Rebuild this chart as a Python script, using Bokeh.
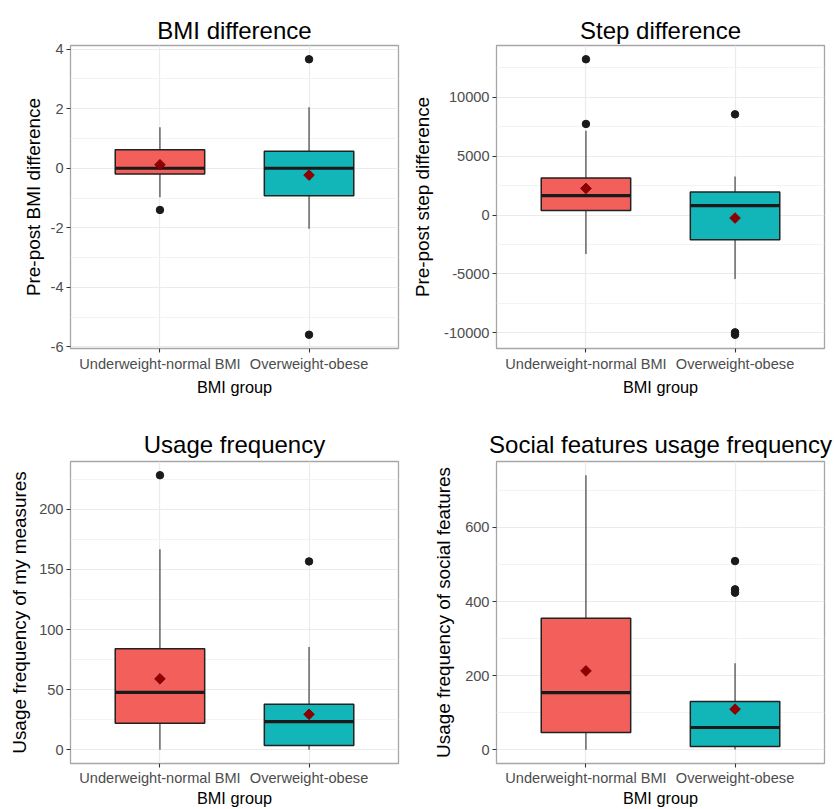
import math
from bokeh.plotting import figure
from bokeh.layouts import column, row
from bokeh.models import Range1d, FixedTicker, Title, ColumnDataSource
from bokeh.embed import file_html
from bokeh.resources import INLINE

# ---------------- data ----------------
categories = ["Underweight-normal BMI", "Overweight-obese"]
box_colors = ["#F35F5B", "#12B5B8"]

bmi_q1 = [-0.19, -0.92]
bmi_med = [0.0, 0.0]
bmi_q3 = [0.62, 0.57]
bmi_lo = [-0.97, -2.03]
bmi_hi = [1.38, 2.05]
bmi_mean = [0.12, -0.23]
bmi_out_group = [0, 1, 1]
bmi_out_val = [-1.40, 3.66, -5.59]
bmi_ticks = [-6, -4, -2, 0, 2, 4]
bmi_tick_labels = ["-6", "-4", "-2", "0", "2", "4"]

step_q1 = [390, -2097]
step_med = [1638, 790]
step_q3 = [3141, 1952]
step_lo = [-3310, -5433]
step_hi = [7156, 3277]
step_mean = [2258, -255]
step_out_group = [0, 0, 1, 1, 1]
step_out_val = [13209, 7725, 8540, -9950, -10150]
step_ticks = [-10000, -5000, 0, 5000, 10000]
step_tick_labels = ["-10000", "-5000", "0", "5000", "10000"]

usage_q1 = [22.1, 3.6]
usage_med = [47.7, 23.4]
usage_q3 = [84.1, 37.8]
usage_lo = [0, 0]
usage_hi = [166.9, 85.5]
usage_mean = [59.0, 29.5]
usage_out_group = [0, 1]
usage_out_val = [228.4, 156.7]
usage_ticks = [0, 50, 100, 150, 200]
usage_tick_labels = ["0", "50", "100", "150", "200"]

social_q1 = [46.7, 8.9]
social_med = [154.5, 60.1]
social_q3 = [354.8, 130.2]
social_lo = [0, 1]
social_hi = [741, 233.6]
social_mean = [212.9, 109.7]
social_out_group = [1, 1, 1]
social_out_val = [509.3, 433, 424]
social_ticks = [0, 200, 400, 600]
social_tick_labels = ["0", "200", "400", "600"]

FONT = "Liberation Sans"
BOX_W = 0.6


def make_panel(title, ylabel, q1, med, q3, lo, hi, mean, og, ov, ticks,
               tick_labels, width, height, bl, br, bt, bb, lab_standoff,
               title_standoff, x_standoff, xlab_standoff):
    allv = lo + hi + ov + q1 + q3
    vmin, vmax = min(allv), max(allv)
    pad = 0.05 * (vmax - vmin)
    p = figure(width=width, height=height, output_backend="svg",
               toolbar_location=None,
               x_range=Range1d(0.4, 2.6),
               y_range=Range1d(vmin - pad, vmax + pad),
               min_border_left=bl, min_border_right=br,
               min_border_top=bt, min_border_bottom=bb)
    p.add_layout(Title(text=title, align="center", text_font=FONT,
                       text_font_size="24px", text_font_style="normal",
                       text_color="#000000", standoff=title_standoff), "above")
    p.background_fill_color = "white"
    p.border_fill_color = "white"
    p.outline_line_color = "#A6A6A6"
    p.outline_line_width = 1.3

    xs = [i + 1 for i in range(len(categories))]
    # grids
    step = ticks[1] - ticks[0]
    minor = [t + step / 2 for t in [ticks[0] - step] + ticks]
    p.ygrid.ticker = FixedTicker(ticks=ticks, minor_ticks=minor)
    p.ygrid.grid_line_color = "#EBEBEB"
    p.ygrid.grid_line_width = 1.2
    p.ygrid.minor_grid_line_color = "#F2F2F2"
    p.ygrid.minor_grid_line_width = 0.9
    p.xgrid.ticker = FixedTicker(ticks=xs)
    p.xgrid.grid_line_color = "#EBEBEB"
    p.xgrid.grid_line_width = 1.2

    # axes
    p.xaxis.ticker = FixedTicker(ticks=xs)
    p.xaxis.major_label_overrides = {x: c for x, c in zip(xs, categories)}
    p.yaxis.ticker = FixedTicker(ticks=ticks)
    p.yaxis.major_label_overrides = {t: l for t, l in zip(ticks, tick_labels)}
    for ax in (p.xaxis[0], p.yaxis[0]):
        ax.axis_line_color = None
        ax.major_tick_line_color = "#333333"
        ax.major_tick_line_width = 1.1
        ax.major_tick_out = 4
        ax.major_tick_in = 0
        ax.minor_tick_line_color = None
        ax.major_label_text_font = FONT
        ax.major_label_text_font_size = "14.6px"
        ax.major_label_text_color = "#4D4D4D"
        ax.major_label_standoff = 3
        ax.axis_label_text_font = FONT
        ax.axis_label_text_font_style = "normal"
        ax.axis_label_text_color = "#000000"
    p.xaxis.major_label_standoff = x_standoff
    p.xaxis.axis_label = "BMI group"
    p.xaxis.axis_label_text_font_size = "16.3px"
    p.xaxis.axis_label_standoff = xlab_standoff
    p.yaxis.axis_label = ylabel
    p.yaxis.axis_label_text_font_size = "18.9px"
    p.yaxis.axis_label_standoff = lab_standoff

    src = ColumnDataSource(dict(x=xs, q1=q1, med=med, q3=q3, lo=lo, hi=hi,
                                mean=mean, color=box_colors,
                                left=[x - BOX_W / 2 for x in xs],
                                right=[x + BOX_W / 2 for x in xs]))
    # whiskers
    p.segment(x0="x", y0="q3", x1="x", y1="hi", source=src,
              line_color="#333333", line_width=1.1)
    p.segment(x0="x", y0="lo", x1="x", y1="q1", source=src,
              line_color="#333333", line_width=1.1)
    # boxes
    p.quad(left="left", right="right", bottom="q1", top="q3", source=src,
           fill_color="color", line_color="#222222", line_width=1.5)
    # median
    p.segment(x0="left", y0="med", x1="right", y1="med", source=src,
              line_color="#1A1A1A", line_width=3.2)
    # outliers
    p.scatter(x=[xs[g] for g in og], y=ov, size=7.5, marker="circle",
              fill_color="#1A1A1A", line_color="#1A1A1A")
    # mean
    p.scatter(x="x", y="mean", source=src, marker="square", size=7.5,
              angle=math.pi / 4,
              fill_color="#8B0000", line_color="#8B0000")
    return p


p1 = make_panel("BMI difference", "Pre-post BMI difference",
                bmi_q1, bmi_med, bmi_q3, bmi_lo, bmi_hi, bmi_mean,
                bmi_out_group, bmi_out_val, bmi_ticks, bmi_tick_labels,
                408, 408, 70, 10, 45, 60, 4, 4, 3, 3)
p2 = make_panel("Step difference", "Pre-post step difference",
                step_q1, step_med, step_q3, step_lo, step_hi, step_mean,
                step_out_group, step_out_val, step_ticks, step_tick_labels,
                426, 408, 88, 10, 45, 60, 8, 4, 3, 3)
p3 = make_panel("Usage frequency", "Usage frequency of my measures",
                usage_q1, usage_med, usage_q3, usage_lo, usage_hi, usage_mean,
                usage_out_group, usage_out_val, usage_ticks, usage_tick_labels,
                408, 401, 70, 10, 53, 40, 6, 8, 2, 0)
p4 = make_panel("Social features usage frequency",
                "Usage frequency of social features",
                social_q1, social_med, social_q3, social_lo, social_hi,
                social_mean, social_out_group, social_out_val, social_ticks,
                social_tick_labels,
                426, 401, 88, 10, 53, 40, 8, 8, 2, 0)

layout = column(row(p1, p2), row(p3, p4))
open("out.html", "w").write(file_html(layout, INLINE))
